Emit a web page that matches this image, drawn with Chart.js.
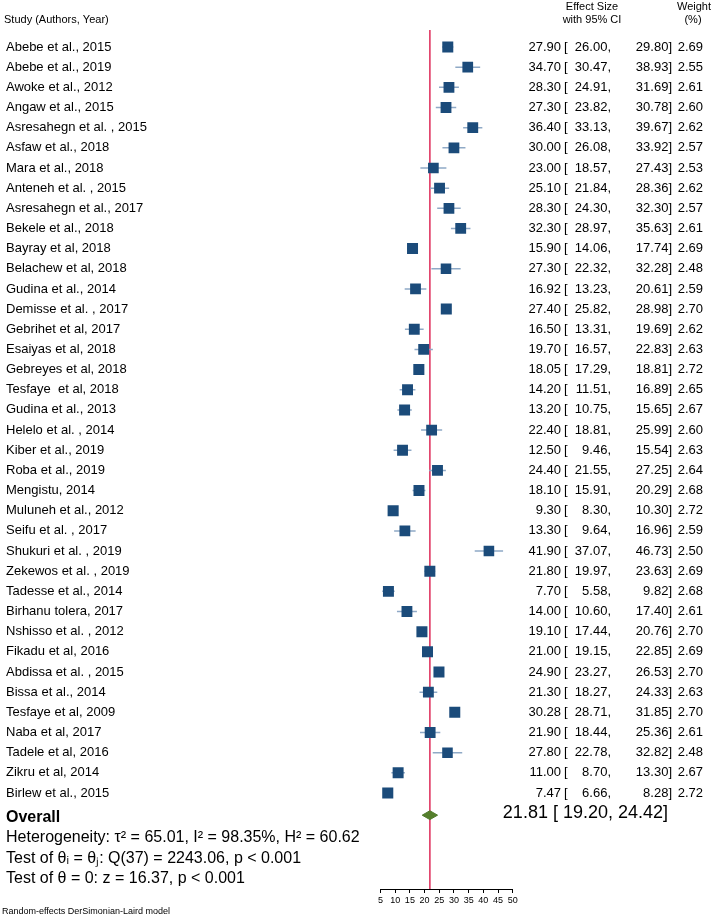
<!DOCTYPE html>
<html>
<head>
<meta charset="utf-8">
<script src="https://cdn.jsdelivr.net/npm/chart.js@4.4.1/dist/chart.umd.min.js"></script>
<style>
  body { margin: 0; background: #fff; }
  #wrap { width: 717px; height: 920px; position: relative; }
</style>
</head>
<body>
<div id="wrap"><canvas id="forest"></canvas></div>
<script>
// study data
const studies = [
  "Abebe et al., 2015", "Abebe et al., 2019", "Awoke et al., 2012", "Angaw et al., 2015",
  "Asresahegn et al. , 2015", "Asfaw et al., 2018", "Mara et al., 2018", "Anteneh et al. , 2015",
  "Asresahegn et al., 2017", "Bekele et al., 2018", "Bayray et al, 2018", "Belachew et al, 2018",
  "Gudina et al., 2014", "Demisse et al. , 2017", "Gebrihet et al, 2017", "Esaiyas et al, 2018",
  "Gebreyes et al, 2018", "Tesfaye  et al, 2018", "Gudina et al., 2013", "Helelo et al. , 2014",
  "Kiber et al., 2019", "Roba et al., 2019", "Mengistu, 2014", "Muluneh et al., 2012",
  "Seifu et al. , 2017", "Shukuri et al. , 2019", "Zekewos et al. , 2019", "Tadesse et al., 2014",
  "Birhanu tolera, 2017", "Nshisso et al. , 2012", "Fikadu et al, 2016", "Abdissa et al. , 2015",
  "Bissa et al., 2014", "Tesfaye et al, 2009", "Naba et al, 2017", "Tadele et al, 2016",
  "Zikru et al, 2014", "Birlew et al., 2015"
];
const effect = [27.90, 34.70, 28.30, 27.30, 36.40, 30.00, 23.00, 25.10, 28.30, 32.30, 15.90, 27.30,
  16.92, 27.40, 16.50, 19.70, 18.05, 14.20, 13.20, 22.40, 12.50, 24.40, 18.10, 9.30, 13.30, 41.90,
  21.80, 7.70, 14.00, 19.10, 21.00, 24.90, 21.30, 30.28, 21.90, 27.80, 11.00, 7.47];
const lower = [26.00, 30.47, 24.91, 23.82, 33.13, 26.08, 18.57, 21.84, 24.30, 28.97, 14.06, 22.32,
  13.23, 25.82, 13.31, 16.57, 17.29, 11.51, 10.75, 18.81, 9.46, 21.55, 15.91, 8.30, 9.64, 37.07,
  19.97, 5.58, 10.60, 17.44, 19.15, 23.27, 18.27, 28.71, 18.44, 22.78, 8.70, 6.66];
const upper = [29.80, 38.93, 31.69, 30.78, 39.67, 33.92, 27.43, 28.36, 32.30, 35.63, 17.74, 32.28,
  20.61, 28.98, 19.69, 22.83, 18.81, 16.89, 15.65, 25.99, 15.54, 27.25, 20.29, 10.30, 16.96, 46.73,
  23.63, 9.82, 17.40, 20.76, 22.85, 26.53, 24.33, 31.85, 25.36, 32.82, 13.30, 8.28];
const weight = [2.69, 2.55, 2.61, 2.60, 2.62, 2.57, 2.53, 2.62, 2.57, 2.61, 2.69, 2.48, 2.59, 2.70,
  2.62, 2.63, 2.72, 2.65, 2.67, 2.60, 2.63, 2.64, 2.68, 2.72, 2.59, 2.50, 2.69, 2.68, 2.61, 2.70,
  2.69, 2.70, 2.63, 2.70, 2.61, 2.48, 2.67, 2.72];
const overall = { es: 21.81, lo: 19.20, hi: 24.42 };
const xTicks = [5, 10, 15, 20, 25, 30, 35, 40, 45, 50];
const statLines = [
  "Heterogeneity: \u03C4\u00B2 = 65.01, I\u00B2 = 98.35%, H\u00B2 = 60.62",
  "Test of \u03B8\u1D62 = \u03B8\u2C7C: Q(37) = 2243.06, p < 0.001",
  "Test of \u03B8 = 0: z = 16.37, p < 0.001"
];

const OVERALL_ROW = 38.1;
const LINE_TOP = -0.84;
const LINE_BOTTOM = 41.76;

const ciData = [];
studies.forEach((s, i) => {
  ciData.push({ x: lower[i], y: i }, { x: upper[i], y: i }, { x: null, y: null });
});
const boxData = studies.map((s, i) => ({ x: effect[i], y: i }));
const boxRadius = weight.map((w) => (11 * Math.sqrt(w / 2.69)) / Math.SQRT2);

const fmt = (v) => v.toFixed(2);

const textPlugin = {
  id: "forestText",
  afterDraw(chart) {
    const ctx = chart.ctx;
    const ys = chart.scales.y;
    ctx.save();
    ctx.fillStyle = "#000";
    ctx.textBaseline = "middle";

    // header
    ctx.font = "11px 'Liberation Sans', Arial, sans-serif";
    ctx.textAlign = "left";
    ctx.fillText("Study (Authors, Year)", 4, 20);
    ctx.textAlign = "center";
    ctx.fillText("Effect Size", 592, 7);
    ctx.fillText("with 95% CI", 592, 20);
    ctx.fillText("Weight", 694, 7);
    ctx.fillText("(%)", 693, 20);

    // rows
    ctx.font = "13px 'Liberation Sans', Arial, sans-serif";
    studies.forEach((s, i) => {
      const y = ys.getPixelForValue(i);
      ctx.textAlign = "left";
      ctx.fillText(s, 6, y);
      ctx.textAlign = "right";
      ctx.fillText(fmt(effect[i]), 561, y);
      ctx.textAlign = "left";
      ctx.fillText("[", 564, y);
      ctx.textAlign = "right";
      ctx.fillText(fmt(lower[i]) + ",", 611, y);
      ctx.fillText(fmt(upper[i]) + "]", 672, y);
      ctx.fillText(fmt(weight[i]), 703, y);
    });

    // overall
    const yo = ys.getPixelForValue(OVERALL_ROW);
    ctx.font = "bold 16px 'Liberation Sans', Arial, sans-serif";
    ctx.textAlign = "left";
    ctx.fillText("Overall", 6, yo + 2);
    ctx.font = "18px 'Liberation Sans', Arial, sans-serif";
    ctx.textAlign = "right";
    ctx.fillText(fmt(overall.es) + " [ " + fmt(overall.lo) + ", " + fmt(overall.hi) + "]", 668, yo - 2);

    ctx.font = "16px 'Liberation Sans', Arial, sans-serif";
    ctx.textAlign = "left";
    statLines.forEach((t, k) => ctx.fillText(t, 6, 838 + k * 20.5));

    ctx.font = "9px 'Liberation Sans', Arial, sans-serif";
    ctx.fillText("Random-effects DerSimonian-Laird model", 2, 912);
    ctx.restore();
  }
};

new Chart(document.getElementById("forest"), {
  type: "scatter",
  data: {
    datasets: [
      {
        label: "effect",
        order: 0,
        data: boxData,
        pointStyle: "rect",
        pointRadius: boxRadius,
        backgroundColor: "#1b4b7a",
        borderColor: "#1b4b7a",
        borderWidth: 0
      },
      {
        label: "diamond",
        order: 0,
        data: [
          { x: overall.lo, y: OVERALL_ROW },
          { x: overall.es, y: OVERALL_ROW - 0.22 },
          { x: overall.hi, y: OVERALL_ROW },
          { x: overall.es, y: OVERALL_ROW + 0.22 },
          { x: overall.lo, y: OVERALL_ROW }
        ],
        showLine: true,
        fill: "shape",
        borderColor: "#4e7a2a",
        backgroundColor: "#557f2c",
        borderWidth: 1,
        pointRadius: 0,
        tension: 0
      },
      {
        label: "CI",
        order: 1,
        data: ciData,
        showLine: true,
        spanGaps: false,
        borderColor: "#8fa9c6",
        borderWidth: 1.5,
        pointRadius: 0
      },
      {
        label: "overall line",
        order: 2,
        data: [{ x: overall.es, y: LINE_TOP }, { x: overall.es, y: LINE_BOTTOM }],
        showLine: true,
        borderColor: "#de2a58",
        borderWidth: 1.5,
        pointRadius: 0
      }
    ]
  },
  options: {
    responsive: true,
    maintainAspectRatio: false,
    animation: false,
    layout: { autoPadding: false, padding: { left: 380.5, right: 204.3, top: 0, bottom: 0 } },
    plugins: { legend: { display: false }, tooltip: { enabled: false } },
    scales: {
      x: {
        type: "linear",
        min: 5,
        max: 50,
        afterBuildTicks(scale) {
          scale.ticks = xTicks.map((v) => ({ value: v }));
        },
        afterFit(scale) {
          scale.height = 31;
        },
        grid: { drawOnChartArea: false, tickLength: 4, color: "#000", tickColor: "#000" },
        border: { color: "#000", width: 1 },
        ticks: {
          color: "#000",
          padding: 2,
          maxRotation: 0,
          autoSkip: false,
          font: { size: 9, family: "'Liberation Sans', Arial, sans-serif" }
        }
      },
      y: {
        type: "linear",
        display: false,
        reverse: true,
        min: -2.331,
        max: 41.762
      }
    }
  },
  plugins: [textPlugin]
});
</script>
</body>
</html>
